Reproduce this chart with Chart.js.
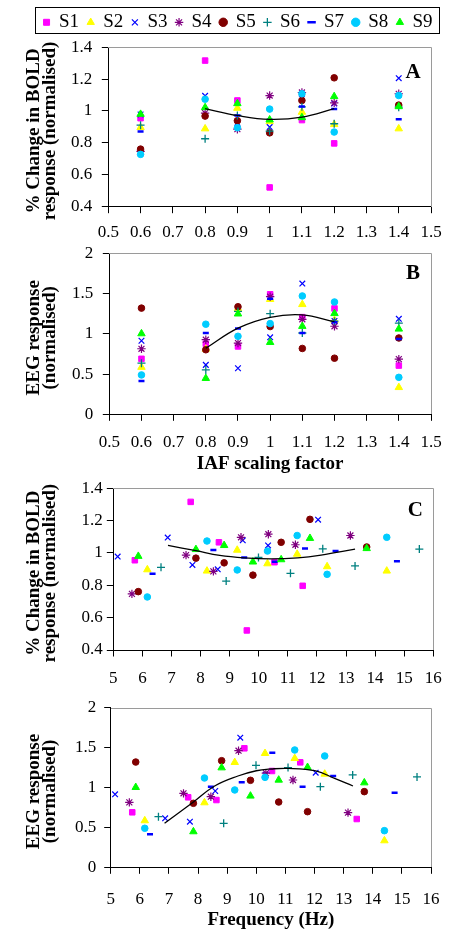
<!DOCTYPE html>
<html>
<head>
<meta charset="utf-8">
<script src="https://cdn.jsdelivr.net/npm/chart.js@4.4.1/dist/chart.umd.min.js"></script>
<style>
  html, body { margin: 0; padding: 0; background: #fff; }
  #wrap { position: relative; width: 456px; height: 931px; overflow: hidden; }
  #wrap canvas { position: absolute; left: 0; }
</style>
</head>
<body>
<div id="wrap">
  <canvas id="chartA" width="456" height="247" style="top:0px"></canvas>
  <canvas id="chartB" width="456" height="250" style="top:230px"></canvas>
  <canvas id="chartC" width="456" height="220" style="top:470px"></canvas>
  <canvas id="chartD" width="456" height="241" style="top:690px"></canvas>
</div>
<script>
// ---- data ----
const subjects = ['S1', 'S2', 'S3', 'S4', 'S5', 'S6', 'S7', 'S8', 'S9'];
const scalingFactors = [0.6, 0.8, 0.9, 1.0, 1.1, 1.2, 1.4];

// stimulation frequency (Hz) for each subject, one per scaling factor
const frequencies = [
  [5.74, 7.66, 8.63, 9.59, 10.54, 11.51, 13.45],
  [6.17, 8.22, 9.26, 10.30, 11.32, 12.35, 14.40],
  [5.15, 6.87, 7.72, 8.59, 9.45, 10.32, 12.04],
  [5.64, 7.50, 8.44, 9.39, 10.33, 11.26, 13.15],
  [5.86, 7.84, 8.81, 9.80, 10.77, 11.76, 13.71],
  [6.64, 8.88, 9.99, 11.09, 12.20, 13.31, 15.52],
  [6.35, 8.44, 9.50, 10.55, 11.59, 12.64, 14.75],
  [6.17, 8.22, 9.26, 10.30, 11.32, 12.35, 14.40],
  [5.86, 7.84, 8.81, 9.80, 10.77, 11.76, 13.71]
];

// % change in BOLD response (normalised)
const boldValues = [
  [0.955, 1.316, 1.066, 0.521, 0.943, 0.797, null],
  [0.897, 0.889, 1.018, 0.934, 0.993, 0.916, 0.889],
  [0.978, 1.095, 0.926, 0.899, 1.078, 1.047, 1.206],
  [0.747, 0.987, 0.886, 1.097, 1.116, 1.051, 1.108],
  [0.761, 0.968, 0.939, 0.863, 1.066, 1.208, 1.037],
  [0.911, 0.826, 0.972, 0.874, 1.026, 0.920, 1.024],
  [0.872, 1.018, 0.972, 0.945, 1.028, 1.012, 0.949],
  [0.728, 1.074, 0.895, 1.012, 1.108, 0.868, 1.097],
  [0.980, 1.022, 1.047, 0.945, 0.959, 1.091, 1.028]
];

// EEG response (normalised)
const eegValues = [
  [0.689, 0.877, 0.843, 1.491, 1.207, 1.315, 0.605],
  [0.585, 0.810, 1.315, 1.428, 1.365, 1.169, 0.334],
  [0.914, 0.614, 0.572, 0.956, 1.624, 1.160, 1.186],
  [0.814, 0.927, 0.885, 1.461, 1.180, 1.094, 0.685],
  [1.319, 0.802, 1.336, 1.090, 0.818, 0.697, 0.948],
  [0.635, 0.551, 1.278, 1.250, 1.010, 1.157, 1.132],
  [0.413, 1.010, 1.065, 1.436, 1.010, 1.144, 0.935],
  [0.489, 1.119, 0.969, 1.127, 1.470, 1.395, 0.459],
  [1.002, 0.447, 1.248, 0.894, 1.094, 1.253, 1.060]
];

// fitted curves, points
const fitAx = [0.8, 0.9, 1.0, 1.1, 1.2];
const fitAy = [1.015, 0.972, 0.948, 0.962, 1.015];
const fitBx = [0.8, 0.9, 1.0, 1.1, 1.2];
const fitBy = [0.82, 1.07, 1.205, 1.235, 1.15];
const fitCx = [6.88, 7.84, 8.66, 9.5, 10.43, 11.34, 12.14, 13.31];
const fitCy = [1.047, 1.014, 0.985, 0.970, 0.964, 0.970, 0.987, 1.024];
const fitDx = [6.85, 7.83, 8.57, 9.37, 10.0, 10.51, 11.09, 12.04, 12.69, 13.32];
const fitDy = [0.551, 0.815, 1.019, 1.144, 1.21, 1.232, 1.24, 1.207, 1.115, 1.019];

// tick labels
const factorTicks = [0.5, 0.6, 0.7, 0.8, 0.9, 1, 1.1, 1.2, 1.3, 1.4, 1.5];
const freqTicks = [5, 6, 7, 8, 9, 10, 11, 12, 13, 14, 15, 16];
const boldTicks = [0.4, 0.6, 0.8, 1, 1.2, 1.4];
const eegTicks = [0, 0.5, 1, 1.5, 2];

const boldTitle = ['% Change in BOLD', 'response (normalised)'];
const eegTitle = ['EEG response', '(normalised)'];

// ---- marker styles ----
const markerStyles = ['rect', 'triangle', 'crossRot', 'star', 'circle', 'cross', 'line', 'circle', 'triangle'];
const markerColors = ['#ff00ff', '#ffff00', '#0000ff', '#800080', '#800000', '#008080', '#0000ff', '#00ccff', '#00ff00'];
const markerRadii = [3.9, 4.3, 4, 4.2, 3.3, 4, 3, 3.3, 4.3];
const markerBorders = [1, 1, 1.2, 1.2, 1, 1.3, 2.5, 1, 1];

Chart.defaults.font.family = "'Liberation Serif', 'Times New Roman', serif";
Chart.defaults.color = '#000';

function pointsFor(xs, ys) {
  const pts = [];
  ys.forEach((v, i) => {
    if (v !== null) pts.push({ x: xs[i], y: v });
  });
  return pts;
}

function buildDatasets(xOf, ys, fitX, fitY) {
  const sets = subjects.map((name, s) => ({
    label: name,
    data: pointsFor(xOf(s), ys[s]),
    pointStyle: markerStyles[s],
    pointRadius: markerRadii[s],
    pointHoverRadius: markerRadii[s],
    backgroundColor: markerColors[s],
    borderColor: markerColors[s],
    borderWidth: markerBorders[s],
    showLine: false,
    order: subjects.length - s
  }));
  sets.push({
    label: 'fit',
    data: fitX.map((x, i) => ({ x: x, y: fitY[i] })),
    showLine: true,
    pointRadius: 0,
    borderColor: '#000',
    borderWidth: 1.3,
    tension: 0.4,
    fill: false,
    order: -1
  });
  return sets;
}

// grey frame on top/right, panel letter, y titles, legend box
const panelDecor = {
  id: 'panelDecor',
  beforeDatasetsDraw(chart, args, opts) {
    const ctx = chart.ctx;
    const a = chart.chartArea;
    ctx.save();
    ctx.strokeStyle = '#9a9a9a';
    ctx.lineWidth = 1;
    ctx.beginPath();
    ctx.moveTo(Math.round(a.left), Math.round(a.top) + 0.5);
    ctx.lineTo(Math.round(a.right) + 0.5, Math.round(a.top) + 0.5);
    ctx.lineTo(Math.round(a.right) + 0.5, Math.round(a.bottom));
    ctx.stroke();
    ctx.restore();
  },
  afterDraw(chart, args, opts) {
    const ctx = chart.ctx;
    const a = chart.chartArea;
    ctx.save();
    ctx.fillStyle = '#000';
    ctx.textAlign = 'center';
    ctx.textBaseline = 'middle';
    if (opts.letter) {
      ctx.font = "bold 21px 'Liberation Serif'";
      ctx.fillText(opts.letter, a.right - 18, a.top + opts.letterDy);
    }
    // y axis title, two lines, rotated
    ctx.font = "bold 19px 'Liberation Serif'";
    ctx.translate(opts.titleX, (a.top + a.bottom) / 2 + opts.titleDy);
    ctx.rotate(-Math.PI / 2);
    opts.yTitle.forEach((t, i) => ctx.fillText(t, 0, i * 16));
    ctx.restore();

    if (opts.legendBox && chart.legend && chart.legend.legendHitBoxes.length) {
      const hb = chart.legend.legendHitBoxes;
      const left = Math.min(...hb.map(h => h.left)) - 8.5;
      const right = Math.max(...hb.map(h => h.left + h.width)) + 6.5;
      const cy = hb[0].top + hb[0].height / 2;
      ctx.save();
      ctx.strokeStyle = '#000';
      ctx.lineWidth = 1;
      ctx.strokeRect(Math.round(left) + 0.5, Math.round(cy - 15) + 0.5,
        Math.round(right - left), Math.round(26.3));
      ctx.restore();
    }
  }
};

function makePanel(id, cfg) {
  return new Chart(document.getElementById(id), {
    type: 'scatter',
    data: { datasets: buildDatasets(cfg.xOf, cfg.ys, cfg.fitX, cfg.fitY) },
    options: {
      responsive: false,
      animation: false,
      events: [],
      layout: { padding: cfg.padding },
      plugins: {
        legend: cfg.legend ? {
          display: true,
          position: 'top',
          weight: 3000,
          labels: {
            usePointStyle: true,
            boxWidth: 6,
            boxHeight: 6,
            padding: 8.6,
            color: '#000',
            font: { size: 19 },
            filter: item => item.datasetIndex < subjects.length,
            sort: (a, b) => a.datasetIndex - b.datasetIndex
          }
        } : { display: false },
        title: cfg.legend ? {
          display: true, text: '', padding: 0, font: { size: 4, lineHeight: '5.4px' }
        } : { display: false },
        tooltip: { enabled: false },
        panelDecor: {
          letter: cfg.letter,
          letterDy: cfg.letterDy,
          yTitle: cfg.yTitle,
          titleX: 34,
          titleDy: 4,
          legendBox: !!cfg.legend
        }
      },
      scales: {
        x: {
          type: 'linear',
          min: cfg.xTicks[0],
          max: cfg.xTicks[cfg.xTicks.length - 1],
          afterBuildTicks: sc => { sc.ticks = cfg.xTicks.map(v => ({ value: v })); },
          afterFit: sc => {
            sc.height = cfg.xAxisHeight;
            sc.paddingLeft = 0;
            sc.paddingRight = cfg.xPadRight || 0;
          },
          ticks: {
            callback: v => String(v),
            font: { size: 17 },
            color: '#000',
            padding: cfg.xTickPad,
            maxRotation: 0,
            autoSkip: false
          },
          grid: { drawOnChartArea: false, drawTicks: true, tickLength: 6.5, color: '#000' },
          border: { display: true, color: '#000', width: 1 },
          title: cfg.xTitle ? {
            display: true,
            text: cfg.xTitle,
            color: '#000',
            font: { size: 19, weight: 'bold', lineHeight: 1.2 },
            padding: { top: 0, bottom: cfg.xTitlePad }
          } : { display: false }
        },
        y: {
          type: 'linear',
          min: cfg.yTicks[0],
          max: cfg.yTicks[cfg.yTicks.length - 1],
          afterBuildTicks: sc => { sc.ticks = cfg.yTicks.map(v => ({ value: v })); },
          afterFit: sc => {
            sc.width = cfg.yAxisWidth;
            sc.paddingTop = 0;
            sc.paddingBottom = 0;
          },
          ticks: {
            callback: v => String(v),
            font: { size: 17 },
            color: '#000',
            padding: cfg.yTickPad
          },
          grid: { drawOnChartArea: false, drawTicks: true, tickLength: 6.5, color: '#000' },
          border: { display: true, color: '#000', width: 1 },
          title: { display: false }
        }
      }
    },
    plugins: [panelDecor]
  });
}

makePanel('chartA', {
  xOf: s => scalingFactors, ys: boldValues, fitX: fitAx, fitY: fitAy,
  xTicks: factorTicks, yTicks: boldTicks, yTitle: boldTitle, letter: 'A', letterDy: 25,
  legend: true,
  padding: { top: 4.2, left: 27, right: 7, bottom: 0 },
  yAxisWidth: 81.3, xAxisHeight: 40.3, xPadRight: 25,
  xTickPad: 8.9, yTickPad: 9.5
});

makePanel('chartB', {
  xOf: s => scalingFactors, ys: eegValues, fitX: fitBx, fitY: fitBy,
  xTicks: factorTicks, yTicks: eegTicks, yTitle: eegTitle, letter: 'B', letterDy: 20,
  xTitle: 'IAF scaling factor', xTitlePad: 4.6,
  padding: { top: 23.3, left: 0, right: 25, bottom: 0 },
  yAxisWidth: 109.3, xAxisHeight: 65.7,
  xTickPad: 11.5, yTickPad: 9.5
});

makePanel('chartC', {
  xOf: s => frequencies[s], ys: boldValues, fitX: fitCx, fitY: fitCy,
  xTicks: freqTicks, yTicks: boldTicks, yTitle: boldTitle, letter: 'C', letterDy: 22,
  padding: { top: 18.3, left: 0, right: 22.7, bottom: 0 },
  yAxisWidth: 113.3, xAxisHeight: 40,
  xTickPad: 12.3, yTickPad: 4
});

makePanel('chartD', {
  xOf: s => frequencies[s], ys: eegValues, fitX: fitDx, fitY: fitDy,
  xTicks: freqTicks, yTicks: eegTicks, yTitle: eegTitle, letter: '', letterDy: 0,
  xTitle: 'Frequency (Hz)', xTitlePad: 0,
  padding: { top: 17.7, left: 0, right: 25, bottom: 0 },
  yAxisWidth: 110.7, xAxisHeight: 63.7,
  xTickPad: 15.7, yTickPad: 8
});
</script>
</body>
</html>
